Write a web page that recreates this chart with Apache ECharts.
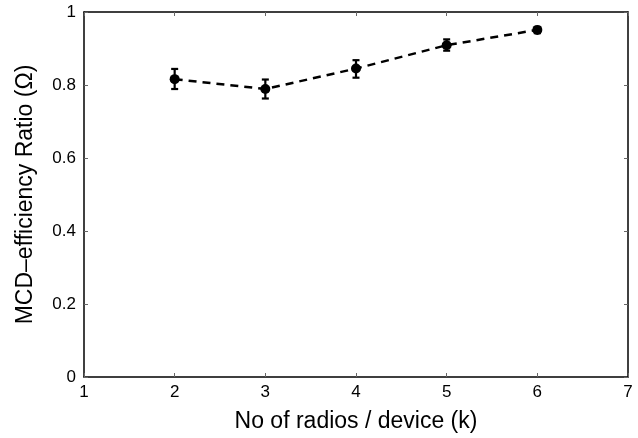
<!DOCTYPE html>
<html><head><meta charset="utf-8">
<script src="https://cdn.jsdelivr.net/npm/echarts@6/dist/echarts.min.js"></script>
<style>html,body{margin:0;padding:0;background:#fff}#c{width:638px;height:438px}</style>
</head><body><div id="c"></div>
<script>
var radios = [2, 3, 4, 5, 6];
var ratio = [0.816, 0.789, 0.845, 0.909, 0.951];
var errLow = [0.789, 0.763, 0.820, 0.894, 0.942];
var errHigh = [0.844, 0.815, 0.868, 0.925, 0.959];
var xTicks = [1, 2, 3, 4, 5, 6, 7];
var yTicks = [0, 0.2, 0.4, 0.6, 0.8, 1];

var chart = echarts.init(document.getElementById('c'));
var font = 'Liberation Sans, Arial, Helvetica, sans-serif';
var lineData = radios.map(function(x, i){ return [x, ratio[i]]; });
var errData = radios.map(function(x, i){ return [x, errLow[i], errHigh[i]]; });
function axisCommon(show){
  return {
    axisLine: {show: true, onZero: false, lineStyle: {color: '#000', width: 1.5}},
    axisTick: {show: true, inside: true, length: 4, lineStyle: {color: '#666', width: 1}},
    splitLine: {show: false},
    axisLabel: {show: show, color: '#000', fontSize: 17, fontFamily: font}
  };
}
var xb = Object.assign(axisCommon(true), {type: 'value', min: xTicks[0], max: xTicks[xTicks.length-1], interval: 1, position: 'bottom',
  name: 'No of radios / device (k)', nameLocation: 'middle', nameGap: 33,
  nameTextStyle: {color: '#000', fontSize: 23, fontFamily: font}});
xb.axisLabel.margin = 7;
var xt = Object.assign(axisCommon(false), {type: 'value', min: xTicks[0], max: xTicks[xTicks.length-1], interval: 1, position: 'top'});
var yl = Object.assign(axisCommon(true), {type: 'value', min: yTicks[0], max: yTicks[yTicks.length-1], interval: 0.2, position: 'left',
  name: 'MCD\u2013efficiency Ratio (\u03A9)', nameLocation: 'middle', nameGap: 47,
  nameTextStyle: {color: '#000', fontSize: 23, fontFamily: font}});
yl.axisLabel.margin = 8;
yl.axisLabel.formatter = function(v){ return String(Math.round(v*10)/10); };
var yr = Object.assign(axisCommon(false), {type: 'value', min: yTicks[0], max: yTicks[yTicks.length-1], interval: 0.2, position: 'right'});

chart.setOption({
  animation: false,
  backgroundColor: '#fff',
  grid: {left: 84, right: 10, top: 12, bottom: 61},
  xAxis: [xb, xt],
  yAxis: [yl, yr],
  series: [
    {type: 'line', data: lineData, xAxisIndex: 0, yAxisIndex: 0,
     lineStyle: {color: '#000', width: 2.5, type: [8, 6]},
     symbol: 'circle', symbolSize: 10, itemStyle: {color: '#000'}, z: 3},
    {type: 'custom', data: errData, xAxisIndex: 0, yAxisIndex: 0, z: 4,
     renderItem: function(params, api){
       var lo = api.coord([api.value(0), api.value(1)]);
       var hi = api.coord([api.value(0), api.value(2)]);
       var w = 3.5;
       var st = {stroke: '#000', lineWidth: 2.2};
       return {type: 'group', children: [
         {type: 'line', shape: {x1: lo[0], y1: lo[1], x2: hi[0], y2: hi[1]}, style: st},
         {type: 'line', shape: {x1: lo[0]-w, y1: lo[1], x2: lo[0]+w, y2: lo[1]}, style: st},
         {type: 'line', shape: {x1: hi[0]-w, y1: hi[1], x2: hi[0]+w, y2: hi[1]}, style: st}
       ]};
     }}
  ]
});
</script></body></html>
